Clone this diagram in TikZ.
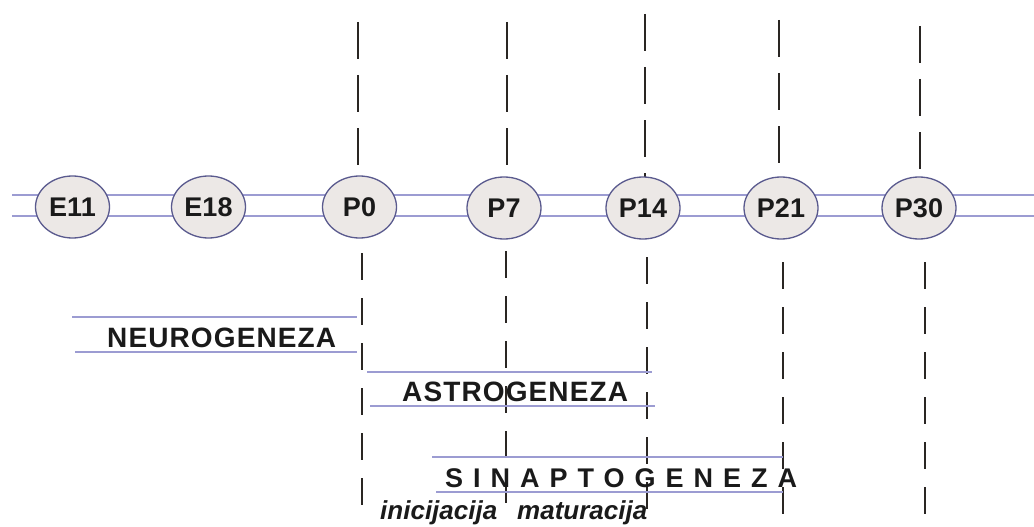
\documentclass[tikz,border=0pt]{standalone}
\usepackage{fontspec}
\setmainfont{Liberation Sans}
\usetikzlibrary{shapes.geometric}
\definecolor{hline}{HTML}{9C9CD2}
\definecolor{eborder}{HTML}{5A5A8E}
\definecolor{efill}{HTML}{ECE8E6}
\definecolor{dashc}{HTML}{2A2623}
\definecolor{txt}{HTML}{1A1A1A}
\tikzset{
  stage/.style={ellipse, draw=eborder, line width=1.3pt, fill=efill,
    minimum width=74pt, minimum height=62pt, inner sep=0pt,
    font=\fontsize{27}{30}\selectfont\bfseries, text=txt},
  guide/.style={draw=hline, line width=1.2pt},
  updash/.style={draw=dashc, line width=2.4pt, dash pattern=on 37pt off 16pt},
  lowdash/.style={draw=dashc, line width=2.4pt, dash pattern=on 27pt off 18pt},
  phase/.style={inner sep=0pt, anchor=base west, text=txt,
    font=\fontsize{28}{30}\selectfont\bfseries\addfontfeature{LetterSpace=4}},
  sub/.style={inner sep=0pt, anchor=base west, text=txt,
    font=\fontsize{26}{28}\selectfont\bfseries\itshape}
}
\begin{document}
\begin{tikzpicture}[x=1pt,y=-1pt]
\useasboundingbox (0,0) rectangle (1034,527);
% main double lines
\coordinate (la) at (12,195); \coordinate (ra) at (1034,195);
\coordinate (lb) at (12,216); \coordinate (rb) at (1034,216);
\draw[guide] (la) -- (ra);
\draw[guide] (lb) -- (rb);
% vertical dashed lines, upper parts
\foreach \n/\x/\s in {p0/358/22, p7/507/22, p14/645/14, p21/779/20, p30/920/26}{
  \coordinate (\n ut) at (\x,\s);
  \coordinate (\n ub) at (\x,223);
  \draw[updash] (\n ut) -- (\n ub);
}
% lower parts
\foreach \n/\x/\s/\e in {p0/362/253/505, p7/506/251/505, p14/647/257/518, p21/783/262/518, p30/925/262/520}{
  \coordinate (\n lt) at (\x,\s);
  \coordinate (\n lb) at (\x,\e);
  \draw[lowdash] (\n lt) -- (\n lb);
}
% stages
\node[stage] (e11) at (72.5,207) {E11};
\node[stage] (e18) at (208.5,207) {E18};
\node[stage] (p0) at (359.5,207) {P0};
\node[stage] (p7) at (504,208) {P7};
\node[stage] (p14) at (643,208) {P14};
\node[stage] (p21) at (781,208) {P21};
\node[stage] (p30) at (919,208) {P30};
% neurogeneza
\coordinate (n1) at (72,317); \coordinate (n2) at (357,317);
\coordinate (n3) at (75,352); \coordinate (n4) at (357,352);
\draw[guide] (n1) -- (n2);
\draw[guide] (n3) -- (n4);
\node[phase] (neuro) at (107,347) {NEUROGENEZA};
% astrogeneza
\coordinate (a1) at (367,372); \coordinate (a2) at (652,372);
\coordinate (a3) at (370,406); \coordinate (a4) at (655,406);
\draw[guide] (a1) -- (a2);
\draw[guide] (a3) -- (a4);
\node[phase] (astro) at (402,401) {ASTROGENEZA};
% sinaptogeneza
\coordinate (s1) at (432,457); \coordinate (s2) at (783,457);
\coordinate (s3) at (436,492); \coordinate (s4) at (783,492);
\draw[guide] (s1) -- (s2);
\draw[guide] (s3) -- (s4);
\node[phase, font=\fontsize{27}{30}\selectfont\bfseries\addfontfeature{LetterSpace=37}] (sinap) at (445,487) {SINAPTOGENEZA};
% sub labels
\node[sub] (ini) at (380,519) {inicijacija};
\node[sub] (mat) at (517,519) {maturacija};
\end{tikzpicture}
\end{document}
